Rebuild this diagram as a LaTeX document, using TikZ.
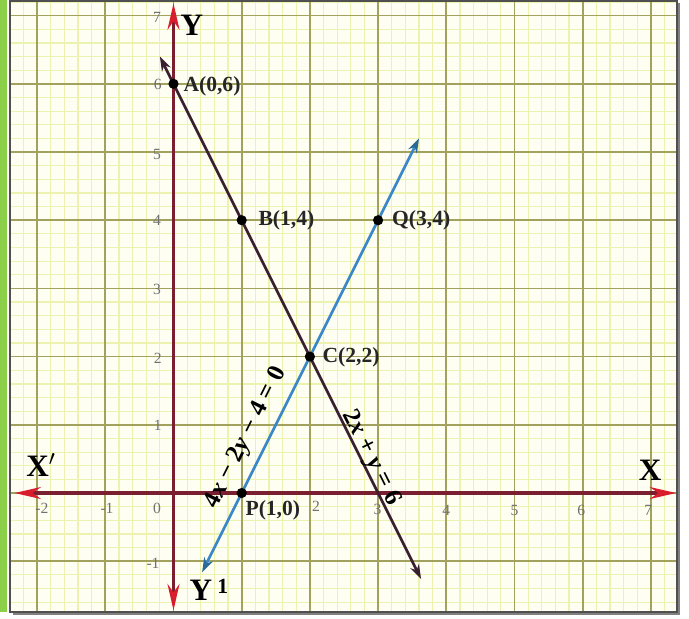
\documentclass[tikz,border=0pt]{standalone}
\usepackage{fontspec}
\setmainfont{Liberation Serif}
\usetikzlibrary{arrows.meta}
\definecolor{bg}{HTML}{FEFEF2}
\definecolor{minorc}{HTML}{EEF2B0}
\definecolor{majorc}{HTML}{A2A25E}
\definecolor{axisc}{HTML}{7A1F30}
\definecolor{arrowred}{HTML}{D81E2C}
\definecolor{darkline}{HTML}{3A1F30}
\definecolor{blueline}{HTML}{3A88C8}
\definecolor{bluehead}{HTML}{2A6A95}
\definecolor{tickc}{HTML}{707070}
\definecolor{greenbar}{HTML}{8CD04A}
\definecolor{framec}{HTML}{505050}
\begin{document}
\begin{tikzpicture}[x=1cm,y=1cm,
  tick/.style={font=\fontsize{6.5}{6.5}\selectfont, text=tickc, inner sep=0pt},
  ptlabel/.style={font=\fontsize{9}{9}\selectfont\bfseries, text=black!85, inner sep=0pt, anchor=west},
  dot/.style={circle, fill=black, inner sep=0pt, minimum size=0.15cm},
  axislabel/.style={font=\fontsize{13}{13}\selectfont\bfseries, inner sep=0pt},
  eqlabel/.style={font=\fontsize{10.5}{10.5}\selectfont\bfseries, inner sep=0pt},
  axisline/.style={line width=1.3pt, draw=axisc,
    {Stealth[length=11pt,width=5pt,color=arrowred]}-{Stealth[length=11pt,width=5pt,color=arrowred]}},
  graphline/.style={line width=1.1pt, {Stealth[length=6pt,width=4pt]}-{Stealth[length=6pt,width=4pt]}},
]
\useasboundingbox (-2.544,-1.833) rectangle (7.559,7.229);
\fill[white] (-2.544,-1.833) rectangle (7.559,7.229);
\fill[greenbar] (-2.544,-1.745) rectangle (-2.44,7.229);
% paper
\fill[bg] (-2.397,-1.745) rectangle (7.383,7.214);
\draw[minorc, line width=0.5pt, step=0.2] (-2.397,-1.745) grid (7.383,7.214);
\draw[majorc, line width=0.7pt, step=1] (-2.397,-1.745) grid (7.383,7.214);
\draw[gray, line width=1.2pt] (-2.35,-1.77) -- (7.41,-1.77) -- (7.41,7.19);
\draw[framec, line width=0.9pt] (-2.397,-1.745) rectangle (7.383,7.214);
% axes
\coordinate (xl) at (-2.33,0);
\coordinate (xr) at (7.37,0);
\coordinate (yb) at (0,-1.72);
\coordinate (yt) at (0,7.18);
\draw[axisline] (xl) -- (xr);
\draw[axisline] (yb) -- (yt);
% tick labels
\node[tick] (tm2) at (-1.93,-0.23) {-2};
\node[tick] (tm1) at (-0.975,-0.23) {-1};
\node[tick] (t0) at (-0.24,-0.22) {0};
\node[tick] (tx2) at (2.09,-0.2) {2};
\node[tick] (tx3) at (2.99,-0.24) {3};
\node[tick] (tx4) at (4.0,-0.25) {4};
\node[tick] (tx5) at (5.0,-0.25) {5};
\node[tick] (tx6) at (5.98,-0.25) {6};
\node[tick] (tx7) at (6.96,-0.25) {7};
\node[tick] (ty7) at (-0.24,6.98) {7};
\node[tick] (ty6) at (-0.23,5.99) {6};
\node[tick] (ty5) at (-0.24,4.96) {5};
\node[tick] (ty4) at (-0.24,4.0) {4};
\node[tick] (ty3) at (-0.24,2.98) {3};
\node[tick] (ty2) at (-0.23,1.98) {2};
\node[tick] (ty1) at (-0.23,0.99) {1};
\node[tick] (tym1) at (-0.3,-1.03) {-1};
% lines
\coordinate (l1s) at (-0.2,6.4);
\coordinate (l1e) at (3.63,-1.26);
\draw[graphline, darkline] (l1s) -- (l1e);
\coordinate (l2s) at (0.42,-1.16);
\coordinate (l2e) at (3.6,5.2);
\draw[graphline, blueline,
  {Stealth[length=6pt,width=4pt,color=bluehead]}-{Stealth[length=6pt,width=4pt,color=bluehead]}] (l2s) -- (l2e);
% points
\node[dot] (A) at (0,6) {};
\node[dot] (B) at (1,4) {};
\node[dot] (C) at (2,2) {};
\node[dot] (Q) at (3,4) {};
\node[dot] (P) at (1,0) {};
\node[ptlabel] (Al) at (0.14,5.97) {A(0,6)};
\node[ptlabel] (Bl) at (1.24,4.0) {B(1,4)};
\node[ptlabel] (Cl) at (2.18,1.99) {C(2,2)};
\node[ptlabel] (Ql) at (3.2,4.0) {Q(3,4)};
\node[ptlabel] (Pl) at (1.05,-0.25) {P(1,0)};
% equation labels
\node[eqlabel, rotate=63.43] (eq2) at (1.063,0.806) {4\textit{x} − 2\textit{y} − 4 = 0};
\node[eqlabel, rotate=-63.43] (eq1) at (2.896,0.513) {2\textit{x} + \textit{y} = 6};
% axis labels
\node[axislabel] (Ylab) at (0.27,6.86) {Y};
\node[axislabel] (Xlab) at (6.99,0.34) {X};
\node[axislabel] (Xplab) at (-1.94,0.41) {X$'$};
\node[axislabel] (Yplab) at (0.52,-1.42) {Y\,\raisebox{0.55ex}{\fontsize{9}{9}\selectfont 1}};
\end{tikzpicture}
\end{document}
